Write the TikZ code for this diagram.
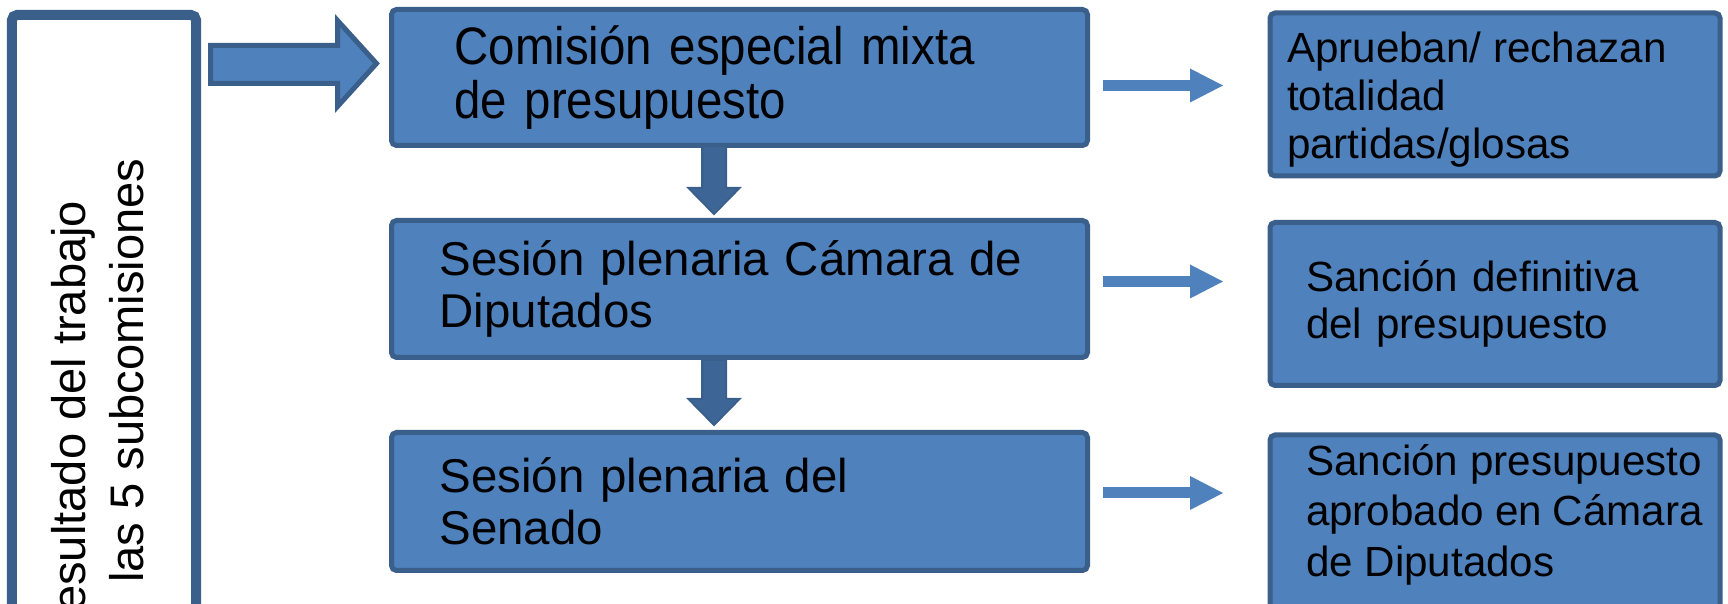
\documentclass[tikz,border=0pt]{standalone}
\usepackage{fontspec}
\setmainfont{Liberation Sans}
\newfontfamily\condfont[FakeStretch=0.9]{Liberation Sans}
\usetikzlibrary{arrows.meta}
\definecolor{boxblue}{HTML}{4F81BD}
\definecolor{boxedge}{HTML}{3A5F8B}
\definecolor{arrdark}{HTML}{3D6595}
\begin{document}
\begin{tikzpicture}[
  box/.style={draw=boxedge,fill=boxblue,line width=0.5mm,rounded corners=0.5mm,align=left,text=black},
  midfont/.style={font=\fontsize{13.5}{14.8}\selectfont},
  sidefont/.style={font=\fontsize{13.4}{15}\selectfont},
  rightfont/.style={font=\fontsize{12}{13.4}\selectfont},
  thinarrow/.style={draw=boxblue,line width=1.1mm,-{Triangle[length=3.3mm,width=3.4mm,line width=0pt]}},
  downarrow/.style={fill=arrdark,draw=boxedge,line width=0.2mm}]
  \useasboundingbox (0,0) rectangle (17.28,-6.04);

  % Left frame with the rotated text
  \node[draw=boxedge,line width=1mm,rounded corners=0.5mm,minimum width=1.84cm,minimum height=7cm,anchor=north] (side) at (1.04,-0.10) {};
  \node[sidefont,rotate=90,inner sep=0,anchor=base east] (sidea) at (0.86,-2.00) {Resultado del trabajo};
  \node[sidefont,rotate=90,inner sep=0,anchor=base east] (sideb) at (1.43,-1.58) {las 5 subcomisiones};

  % Big arrow into the first step
  \draw[boxedge,fill=boxblue,line width=0.5mm,line join=miter]
    (2.105,-0.455) -- (3.375,-0.455) -- (3.375,-0.205) -- (3.765,-0.635)
    -- (3.375,-1.065) -- (3.375,-0.835) -- (2.105,-0.835) -- cycle;

  % Middle column
  \node[box,midfont,font=\condfont\fontsize{15}{15.6}\selectfont,minimum width=6.96cm,minimum height=1.36cm,text width=5.70cm,inner xsep=0.63cm] (com) at (7.395,-0.775) {Comisión especial mixta\\de presupuesto};
  \node[box,midfont,minimum width=6.96cm,minimum height=1.37cm,text width=6.0cm,inner xsep=0.48cm] (cam) at (7.395,-2.89) {Sesión plenaria Cámara de\\Diputados};
  \node[box,midfont,minimum width=6.96cm,minimum height=1.38cm,text width=6.0cm,inner xsep=0.48cm] (sen) at (7.395,-5.015) {Sesión plenaria del\\Senado};

  % Down arrows
  \draw[downarrow] (7.02,-1.46) -- (7.26,-1.46) -- (7.26,-1.88) -- (7.395,-1.88)
    -- (7.14,-2.14) -- (6.885,-1.88) -- (7.02,-1.88) -- cycle;
  \draw[downarrow] (7.02,-3.60) -- (7.26,-3.60) -- (7.26,-3.99) -- (7.395,-3.99)
    -- (7.14,-4.25) -- (6.885,-3.99) -- (7.02,-3.99) -- cycle;

  % Right column
  \node[box,rightfont,minimum width=4.50cm,inner xsep=0.17cm,inner ysep=0.19cm,anchor=north] (apr) at (14.95,-0.105)
    {\parbox[t][1.25cm][t]{4.16cm}{\raggedright\fontsize{12}{13.6}\selectfont Aprueban/ rechazan\\totalidad\\partidas/glosas}};
  \node[box,rightfont,minimum width=4.50cm,minimum height=1.63cm,text width=3.78cm,inner xsep=0.36cm] (def) at (14.95,-3.04) {Sanción definitiva\\del presupuesto};
  \node[box,rightfont,minimum width=4.50cm,inner xsep=0.17cm,inner ysep=0.09cm,anchor=north] (fin) at (14.95,-4.325)
    {\parbox[t][2.2cm][t]{4.16cm}{\raggedright\leftskip=0.19cm\fontsize{12}{14.4}\selectfont Sanción presupuesto\\aprobado en Cámara\\de Diputados}};

  % Thin arrows between the columns
  \coordinate (r1s) at (11.03,-0.855);
  \coordinate (r1e) at (12.23,-0.855);
  \coordinate (r2s) at (11.03,-2.815);
  \coordinate (r2e) at (12.23,-2.815);
  \coordinate (r3s) at (11.03,-4.93);
  \coordinate (r3e) at (12.23,-4.93);
  \draw[thinarrow] (r1s) -- (r1e);
  \draw[thinarrow] (r2s) -- (r2e);
  \draw[thinarrow] (r3s) -- (r3e);
\end{tikzpicture}
\end{document}
